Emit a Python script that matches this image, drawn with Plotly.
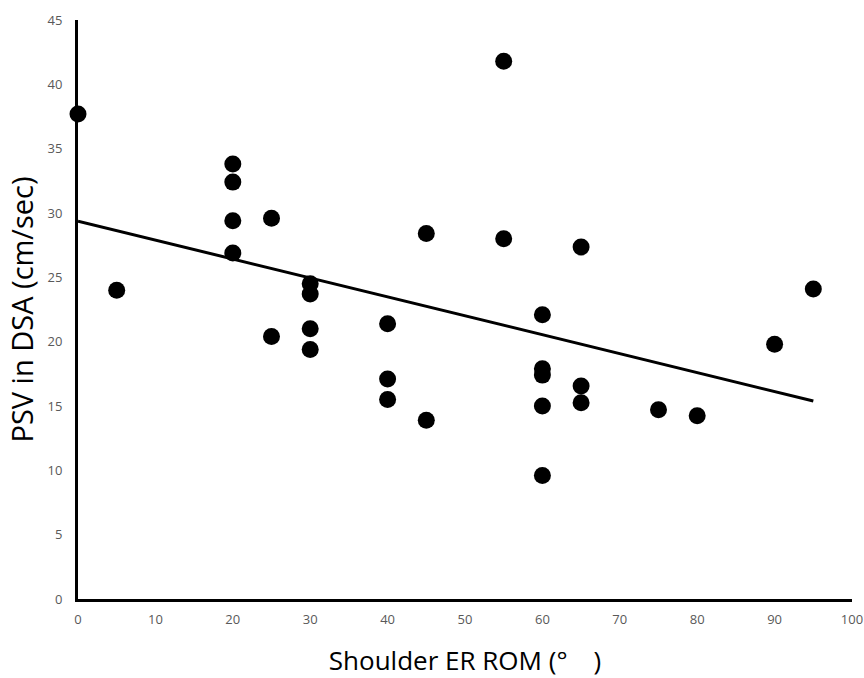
import numpy as np
import plotly.graph_objects as go

rom = [0, 5, 20, 20, 20, 20, 25, 25, 30, 30, 30, 30, 40, 40, 40, 45, 45,
       55, 55, 60, 60, 60, 60, 60, 65, 65, 65, 75, 80, 90, 95]
psv = [37.7, 24.0, 33.8, 32.4, 29.4, 26.9, 29.6, 20.4, 24.5, 23.7, 21.0, 19.4,
       21.4, 17.1, 15.5, 28.4, 13.9, 41.8, 28.0, 22.1, 17.9, 17.4, 15.0, 9.6,
       27.35, 16.55, 15.25, 14.7, 14.25, 19.8, 24.1]
x_ticks = [0, 10, 20, 30, 40, 50, 60, 70, 80, 90, 100]
y_ticks = [0, 5, 10, 15, 20, 25, 30, 35, 40, 45]

slope, intercept = np.polyfit(rom, psv, 1)
fit_x = [min(rom), max(rom)]
fit_y = [intercept + slope * v for v in fit_x]

fig = go.Figure()
fig.add_trace(go.Scatter(x=fit_x, y=fit_y, mode="lines",
                         line=dict(color="black", width=3),
                         hoverinfo="skip", showlegend=False))
fig.add_trace(go.Scatter(x=rom, y=psv, mode="markers",
                         marker=dict(color="black", size=17),
                         cliponaxis=False, showlegend=False))

tickfont = dict(size=13, color="#595959", family="Liberation Sans Narrow, Open Sans")
fig.update_layout(
    width=864, height=678,
    margin=dict(l=78, r=12, t=19.5, b=78.5),
    paper_bgcolor="white", plot_bgcolor="white",
    font=dict(family="Open Sans, DejaVu Sans, sans-serif"),
)
fig.update_xaxes(
    range=[0, 100], tickvals=x_ticks, ticks="", showgrid=False, zeroline=False,
    showline=True, linecolor="black", linewidth=3, automargin=False,
    tickfont=tickfont, ticklabelstandoff=6,
    title=dict(text="Shoulder ER ROM (°\u3000)", font=dict(size=26, color="black"),
               standoff=27),
)
fig.update_yaxes(
    range=[0, 45], tickvals=y_ticks, ticks="", showgrid=False, zeroline=False,
    showline=True, linecolor="black", linewidth=3, automargin=False,
    tickfont=tickfont, ticklabelstandoff=10,
    title=dict(text="PSV in DSA (cm/sec)", font=dict(size=29, color="black"),
               standoff=6),
)
fig.write_html("out.html", config={"displayModeBar": False},
               post_script="document.body.style.margin='0';")
